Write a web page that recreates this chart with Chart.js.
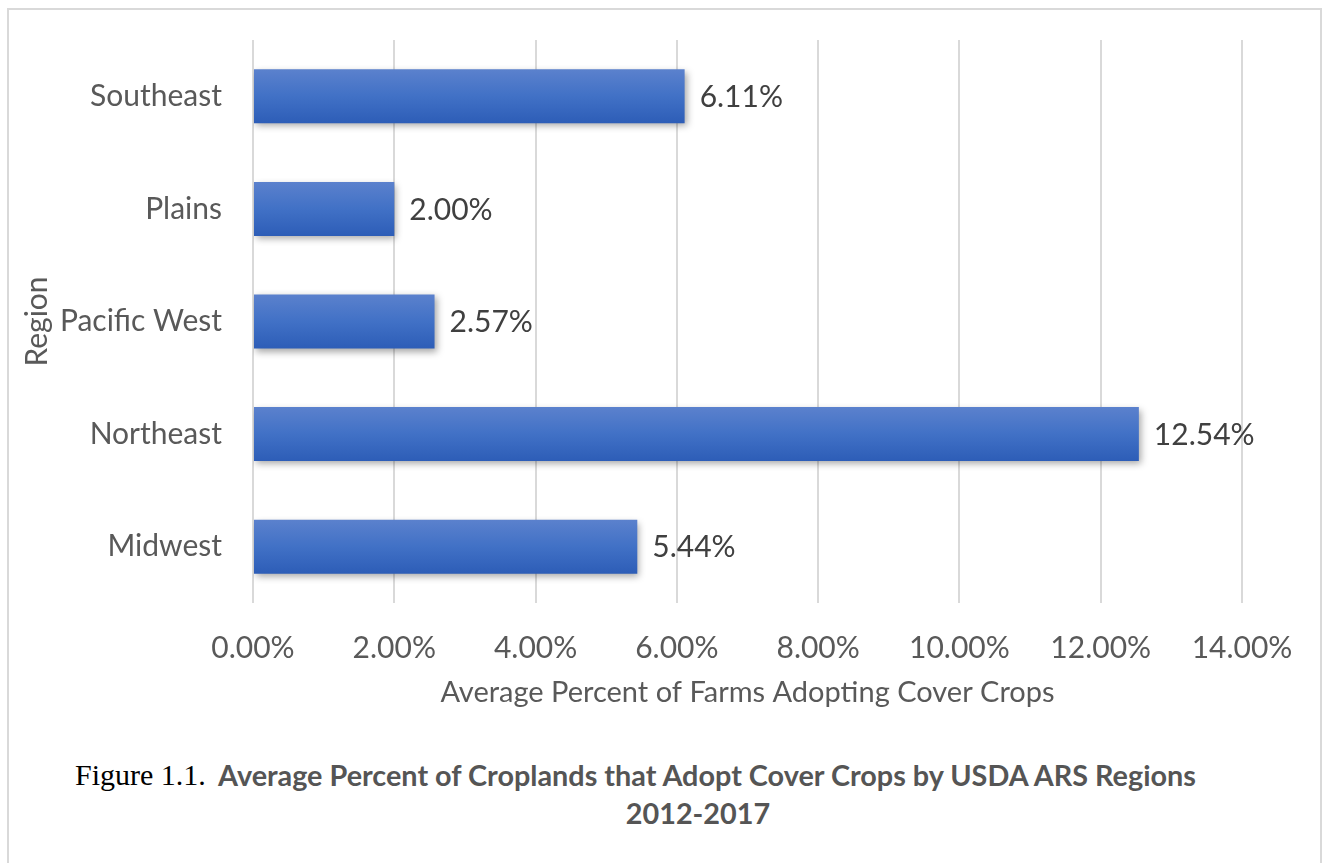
<!DOCTYPE html>
<html>
<head>
<meta charset="utf-8">
<script src="https://cdn.jsdelivr.net/npm/chart.js@4"></script>
<style>
  body { margin: 0; background: #fff; width: 1331px; height: 863px; overflow: hidden; position: relative; }
  .frame { position: absolute; left: 7px; top: 8px; width: 1315px; height: 900px; border: 2px solid #d9d9d9; box-sizing: border-box; }
  .chart-box { position: absolute; left: 0; top: 0; width: 1331px; height: 710px; }
  .fig-no { position: absolute; left: 75px; top: 757px; font: 30px "Liberation Serif", serif; color: #000; white-space: nowrap; line-height: 36px; }
  .caption { position: absolute; font: bold 28.8px Lato, sans-serif; color: #555; text-align: center; white-space: nowrap; line-height: 36px; }
</style>
</head>
<body>
<div class="frame"></div>
<div class="chart-box"><canvas id="chart-bars"></canvas></div>
<div class="fig-no">Figure 1.1.</div>
<div class="caption" style="left:218px; top:757px; width:978px;">Average Percent of Croplands that Adopt Cover Crops by USDA ARS Regions</div>
<div class="caption" style="left:598px; top:795px; width:200px;">2012-2017</div>
<script>
const regions = ["Southeast", "Plains", "Pacific West", "Northeast", "Midwest"];
const adoptionPct = [6.11, 2.00, 2.57, 12.54, 5.44];
const axisMax = 14;
const axisStep = 2;

const BAR_FRACTION = 0.48;

// shade each bar lighter at the top, darker at the bottom
function barGradient(context) {
    const chart = context.chart;
    const yScale = chart.scales.y;
    if (!chart.chartArea || !yScale) return "#4472c4";
    const center = yScale.getPixelForValue(context.dataIndex);
    const half = (yScale.height / regions.length) * BAR_FRACTION / 2;
    const g = chart.ctx.createLinearGradient(0, center - half, 0, center + half);
    g.addColorStop(0, "#5b81cd");
    g.addColorStop(0.5, "#4171c6");
    g.addColorStop(1, "#2d5db7");
    return g;
}

// soft drop shadow under the bars
const barShadow = {
    id: "barShadow",
    beforeDatasetsDraw(chart) {
        const ctx = chart.ctx;
        ctx.save();
        ctx.shadowColor = "rgba(0, 0, 0, 0.35)";
        ctx.shadowBlur = 7;
        ctx.shadowOffsetX = 2;
        ctx.shadowOffsetY = 3;
    },
    afterDatasetsDraw(chart) {
        chart.ctx.restore();
    }
};

// value text to the right of each bar
const valueLabels = {
    id: "valueLabels",
    afterDatasetsDraw(chart) {
        const ctx = chart.ctx;
        const meta = chart.getDatasetMeta(0);
        ctx.save();
        ctx.font = "30px Lato, sans-serif";
        ctx.fillStyle = "#404040";
        ctx.textAlign = "left";
        ctx.textBaseline = "middle";
        meta.data.forEach((bar, i) => {
            ctx.fillText(adoptionPct[i].toFixed(2) + "%", bar.x + 15, bar.y + 1);
        });
        ctx.restore();
    }
};

document.addEventListener("DOMContentLoaded", function () {
    const ctx = document.getElementById("chart-bars").getContext("2d");

    new Chart(ctx, {
        type: "bar",
        data: {
            labels: regions,
            datasets: [{
                data: adoptionPct,
                backgroundColor: barGradient,
                borderWidth: 0,
                categoryPercentage: 1,
                barPercentage: BAR_FRACTION
            }]
        },
        options: {
            indexAxis: "y",
            responsive: true,
            maintainAspectRatio: false,
            animation: false,
            layout: { padding: { left: 19, right: 89, top: 40, bottom: 0 } },
            plugins: {
                legend: { display: false },
                tooltip: { enabled: false }
            },
            scales: {
                x: {
                    min: 0,
                    max: axisMax,
                    ticks: {
                        stepSize: axisStep,
                        padding: 27,
                        color: "#595959",
                        font: { family: "Lato", size: 30 },
                        callback: v => v.toFixed(2) + "%"
                    },
                    grid: { color: "#d9d9d9", lineWidth: 2, drawTicks: false },
                    border: { display: false },
                    title: {
                        display: true,
                        text: "Average Percent of Farms Adopting Cover Crops",
                        color: "#595959",
                        font: { family: "Lato", size: 29 },
                        padding: 0
                    },
                    afterFit: s => { s.height = 107; }
                },
                y: {
                    ticks: {
                        padding: 31,
                        color: "#595959",
                        font: { family: "Lato", size: 30 }
                    },
                    grid: { display: false, drawTicks: false },
                    border: { display: false },
                    title: {
                        display: true,
                        text: "Region",
                        color: "#595959",
                        font: { family: "Lato", size: 30 },
                        padding: 0
                    },
                    afterFit: s => {
                        s.width = 234;
                        s.paddingTop = 0;
                        s.paddingBottom = 0;
                    }
                }
            }
        },
        plugins: [barShadow, valueLabels]
    });
});
</script>
</body>
</html>
